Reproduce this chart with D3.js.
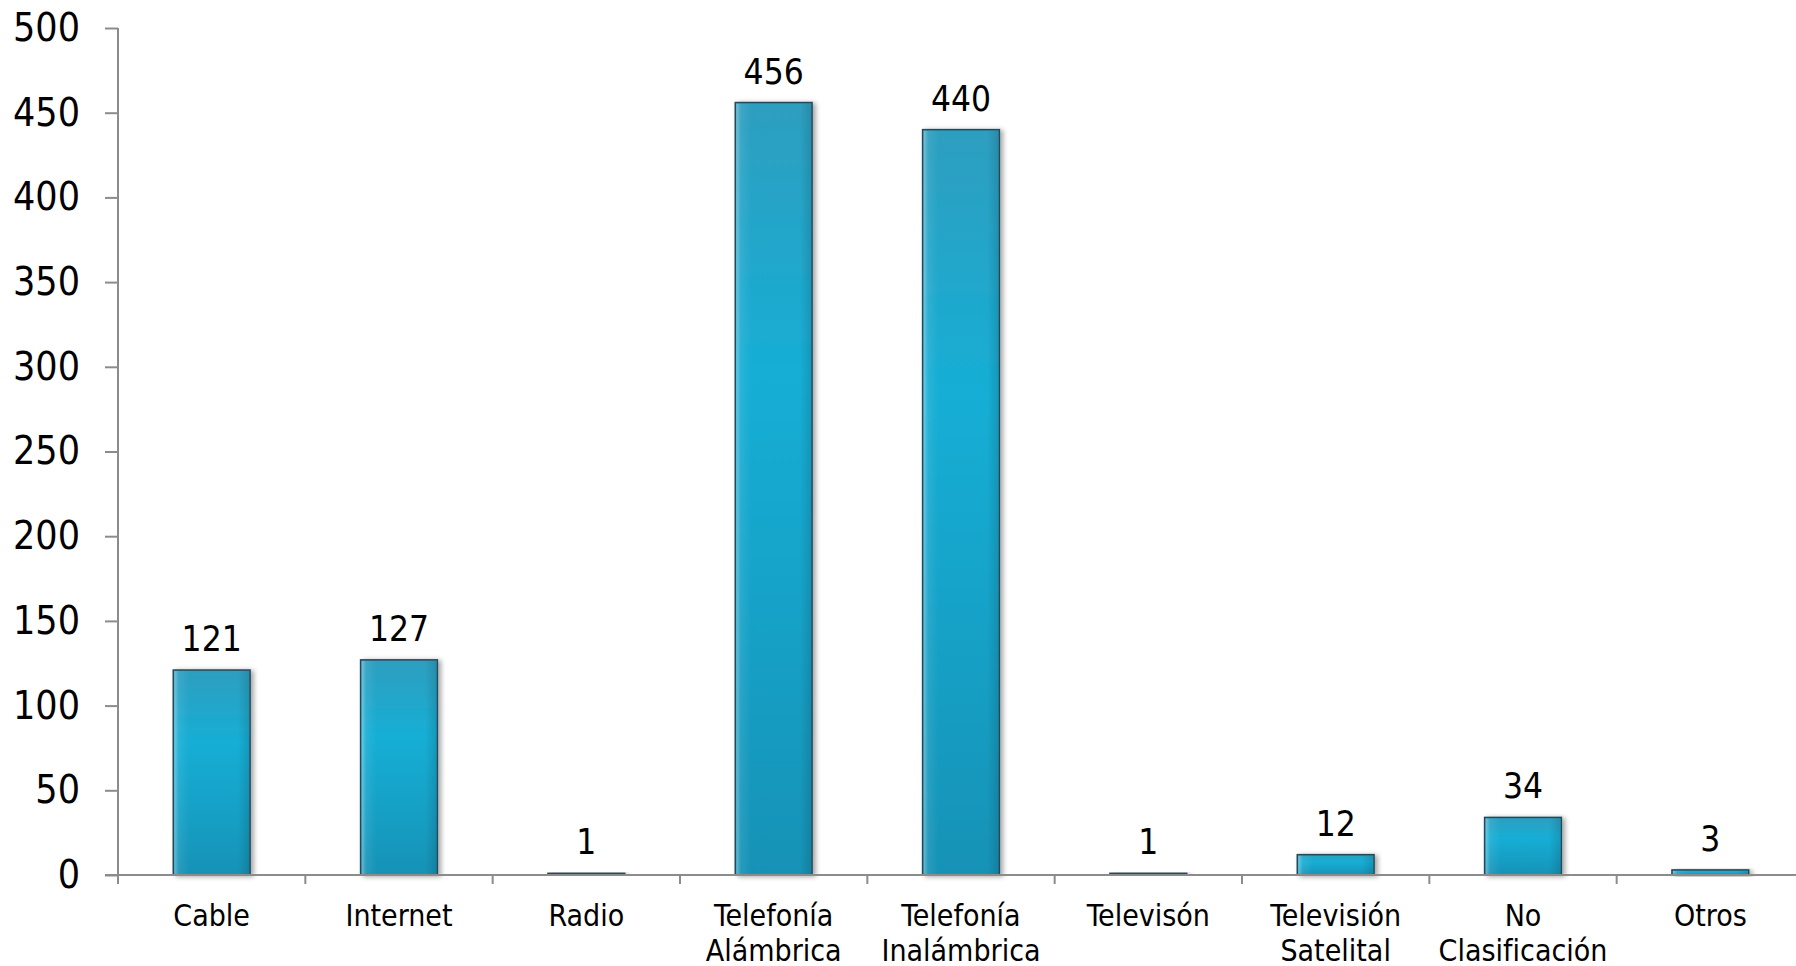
<!DOCTYPE html>
<html lang="es">
<head>
  <meta charset="UTF-8">
  <title>Categorías</title>
  <script src="https://d3js.org/d3.v7.min.js"></script>
  <style>
    html, body { margin: 0; padding: 0; background: #fff; }
    svg { display: block; font-family: "DejaVu Sans Condensed", "DejaVu Sans", sans-serif; }
  </style>
</head>
<body>
  <svg width="1796" height="966"></svg>

  <script>
    // data
    const categories = [
      ["Cable"], ["Internet"], ["Radio"],
      ["Telefonía", "Alámbrica"], ["Telefonía", "Inalámbrica"],
      ["Televisón"], ["Televisión", "Satelital"],
      ["No", "Clasificación"], ["Otros"]
    ];
    const values = [121, 127, 1, 456, 440, 1, 12, 34, 3];
    const yTicks = [0, 50, 100, 150, 200, 250, 300, 350, 400, 450, 500];

    const keys = categories.map(c => c.join(" "));
    const data = keys.map((k, i) => ({key: k, lines: categories[i], value: values[i]}));

    const margin = {top: 28, left: 118, bottom: 91, right: -8};
    const width = 1796, height = 966;
    const axisColor = `#8c8c8c`;

    const svg = d3.select(`svg`);

    const x = d3.scaleBand()
      .domain(keys)
      .range([margin.left, width - margin.right])
      .padding(0);

    const y = d3.scaleLinear()
      .domain([0, 500])
      .range([height - margin.bottom, margin.top]);

    const barW = x.bandwidth() * 0.41;

    const defs = svg.append(`defs`);
    const grad = defs.append(`linearGradient`).attr(`id`, `barGrad`)
      .attr(`x1`, 0).attr(`y1`, 0).attr(`x2`, 0).attr(`y2`, 1);
    [[0, `#2e9ebf`], [0.35, `#17aed5`], [0.65, `#15a2c8`], [1, `#1292b6`]]
      .forEach(([o, c]) => grad.append(`stop`).attr(`offset`, o).attr(`stop-color`, c));

    const side = defs.append(`linearGradient`).attr(`id`, `sideGrad`)
      .attr(`x1`, 0).attr(`y1`, 0).attr(`x2`, 1).attr(`y2`, 0);
    [[0, `#ffffff`, 0.35], [0.06, `#ffffff`, 0.08], [0.2, `#ffffff`, 0],
     [0.85, `#000000`, 0], [1, `#000000`, 0.12]]
      .forEach(([o, c, a]) => side.append(`stop`).attr(`offset`, o)
        .attr(`stop-color`, c).attr(`stop-opacity`, a));

    const shadow = defs.append(`filter`).attr(`id`, `shadow`)
      .attr(`x`, `-20%`).attr(`y`, `-20%`).attr(`width`, `150%`).attr(`height`, `150%`);
    shadow.append(`feDropShadow`)
      .attr(`dx`, 3).attr(`dy`, 1).attr(`stdDeviation`, 2.5)
      .attr(`flood-color`, `#000`).attr(`flood-opacity`, 0.35);

    // y axis
    const yAxis = d3.axisLeft(y).tickValues(yTicks).tickSize(13).tickSizeOuter(0).tickPadding(25);
    const gy = svg.append(`g`)
      .attr(`transform`, `translate(${margin.left},0)`)
      .call(yAxis);
    gy.select(`.domain`).remove();
    gy.selectAll(`line`).attr(`stroke`, axisColor).attr(`stroke-width`, 2);
    gy.selectAll(`text`).attr(`font-size`, 39).attr(`fill`, `#000`)
      .attr(`font-family`, `"DejaVu Sans Condensed", sans-serif`);
    gy.append(`line`)
      .attr(`x1`, 0).attr(`x2`, 0)
      .attr(`y1`, y(500)).attr(`y2`, y(0) + 9)
      .attr(`stroke`, axisColor).attr(`stroke-width`, 2);

    // bars
    const bars = svg.append(`g`);
    const bx = d => x(d.key) + (x.bandwidth() - barW) / 2;
    bars.selectAll(`rect.bar`)
      .data(data).join(`rect`)
      .attr(`class`, `bar`)
      .attr(`x`, bx)
      .attr(`y`, d => y(d.value))
      .attr(`width`, barW)
      .attr(`height`, d => y(0) - y(d.value))
      .attr(`fill`, `url(#barGrad)`)
      .attr(`stroke`, `#24485a`)
      .attr(`stroke-width`, 1.5)
      .attr(`filter`, `url(#shadow)`);
    bars.selectAll(`rect.hl`)
      .data(data).join(`rect`)
      .attr(`class`, `hl`)
      .attr(`x`, d => bx(d) + 1)
      .attr(`y`, d => y(d.value) + 1)
      .attr(`width`, barW - 2)
      .attr(`height`, d => Math.max(0, y(0) - y(d.value) - 2))
      .attr(`fill`, `url(#sideGrad)`);

    // value labels
    svg.append(`g`).selectAll(`text`)
      .data(data).join(`text`)
      .attr(`x`, d => x(d.key) + x.bandwidth() / 2)
      .attr(`y`, d => y(d.value) - 19)
      .attr(`text-anchor`, `middle`)
      .attr(`font-size`, 35)
      .attr(`fill`, `#000`)
      .text(d => d.value);

    // x axis
    const gx = svg.append(`g`);
    gx.append(`line`)
      .attr(`x1`, margin.left - 13).attr(`x2`, width)
      .attr(`y1`, y(0)).attr(`y2`, y(0))
      .attr(`stroke`, axisColor).attr(`stroke-width`, 2);
    gx.selectAll(`line.tick`)
      .data(keys.slice(1)).join(`line`)
      .attr(`class`, `tick`)
      .attr(`x1`, d => x(d)).attr(`x2`, d => x(d))
      .attr(`y1`, y(0)).attr(`y2`, y(0) + 9)
      .attr(`stroke`, axisColor).attr(`stroke-width`, 2);
    const lbl = gx.selectAll(`text`)
      .data(data).join(`text`)
      .attr(`text-anchor`, `middle`)
      .attr(`font-size`, 30)
      .attr(`fill`, `#000`);
    lbl.selectAll(`tspan`)
      .data(d => d.lines.map(t => ({t, cx: x(d.key) + x.bandwidth() / 2})))
      .join(`tspan`)
      .attr(`x`, d => d.cx)
      .attr(`y`, (d, i) => y(0) + 51 + i * 35)
      .text(d => d.t);
  </script>
</body>
</html>
